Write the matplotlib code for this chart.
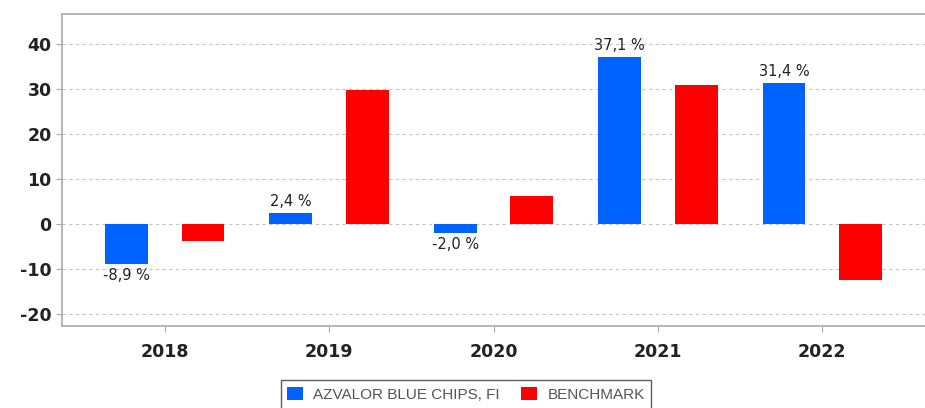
import numpy as np
import matplotlib
matplotlib.use('Agg')
import matplotlib.pyplot as plt

plt.rcParams['axes.unicode_minus'] = False

years = ['2018', '2019', '2020', '2021', '2022']
fund = [-8.9, 2.4, -2.0, 37.1, 31.4]
bench = [-3.8, 29.9, 6.2, 30.9, -12.5]
fund_name = 'AZVALOR BLUE CHIPS, FI'
bench_name = 'BENCHMARK'

blue = '#0062ff'
red = '#ff0000'

fig = plt.figure(figsize=(9.25, 4.08), dpi=100)
ax = fig.add_axes([62/925, 1-326/408, 1-62/925, (326-14)/408])

x = np.arange(len(years))
w = 0.26
ax.bar(x - 0.233, fund, w, color=blue, label=fund_name, zorder=3)
ax.bar(x + 0.233, bench, w, color=red, label=bench_name, zorder=3)

# labels for the fund bars only
for xi, v in zip(x, fund):
    txt = ('%.1f %%' % v).replace('.', ',')
    if v >= 0:
        ax.text(xi - 0.233, v + 0.9, txt, ha='center', va='bottom', fontsize=10.5, color='#222222')
    else:
        ax.text(xi - 0.233, v - 0.8, txt, ha='center', va='top', fontsize=10.5, color='#222222')

ax.set_xlim(-0.625, 4.625)
ax.set_ylim(-22.7, 46.7)
ax.set_yticks([-20, -10, 0, 10, 20, 30, 40])
ax.set_xticks(x)
ax.set_xticklabels(years)
for lab in ax.get_xticklabels() + ax.get_yticklabels():
    lab.set_fontweight('bold')
    lab.set_fontsize(12.5)
    lab.set_color('#222222')

ax.grid(axis='y', linestyle=(0, (3, 3)), color='#c4c4c4', linewidth=0.8, zorder=0)
for s in ['left', 'bottom', 'top']:
    ax.spines[s].set_color('#aaaaaa')
    ax.spines[s].set_linewidth(1.2)
ax.spines['right'].set_visible(False)
ax.tick_params(axis='both', colors='#aaaaaa', length=4, labelcolor='#222222')
ax.tick_params(axis='x', pad=8)

leg = fig.legend(loc='lower center', bbox_to_anchor=(466/925, -0.02), ncol=2,
                 frameon=True, fancybox=False, edgecolor='#333333',
                 prop={'family': 'Liberation Sans', 'size': 11},
                 handlelength=1.0, handleheight=1.0, handletextpad=0.7,
                 columnspacing=1.4, borderpad=0.45)
leg.get_frame().set_linewidth(1.0)
for t in leg.get_texts():
    t.set_color('#555555')

fig.savefig('out.png', dpi=100)
